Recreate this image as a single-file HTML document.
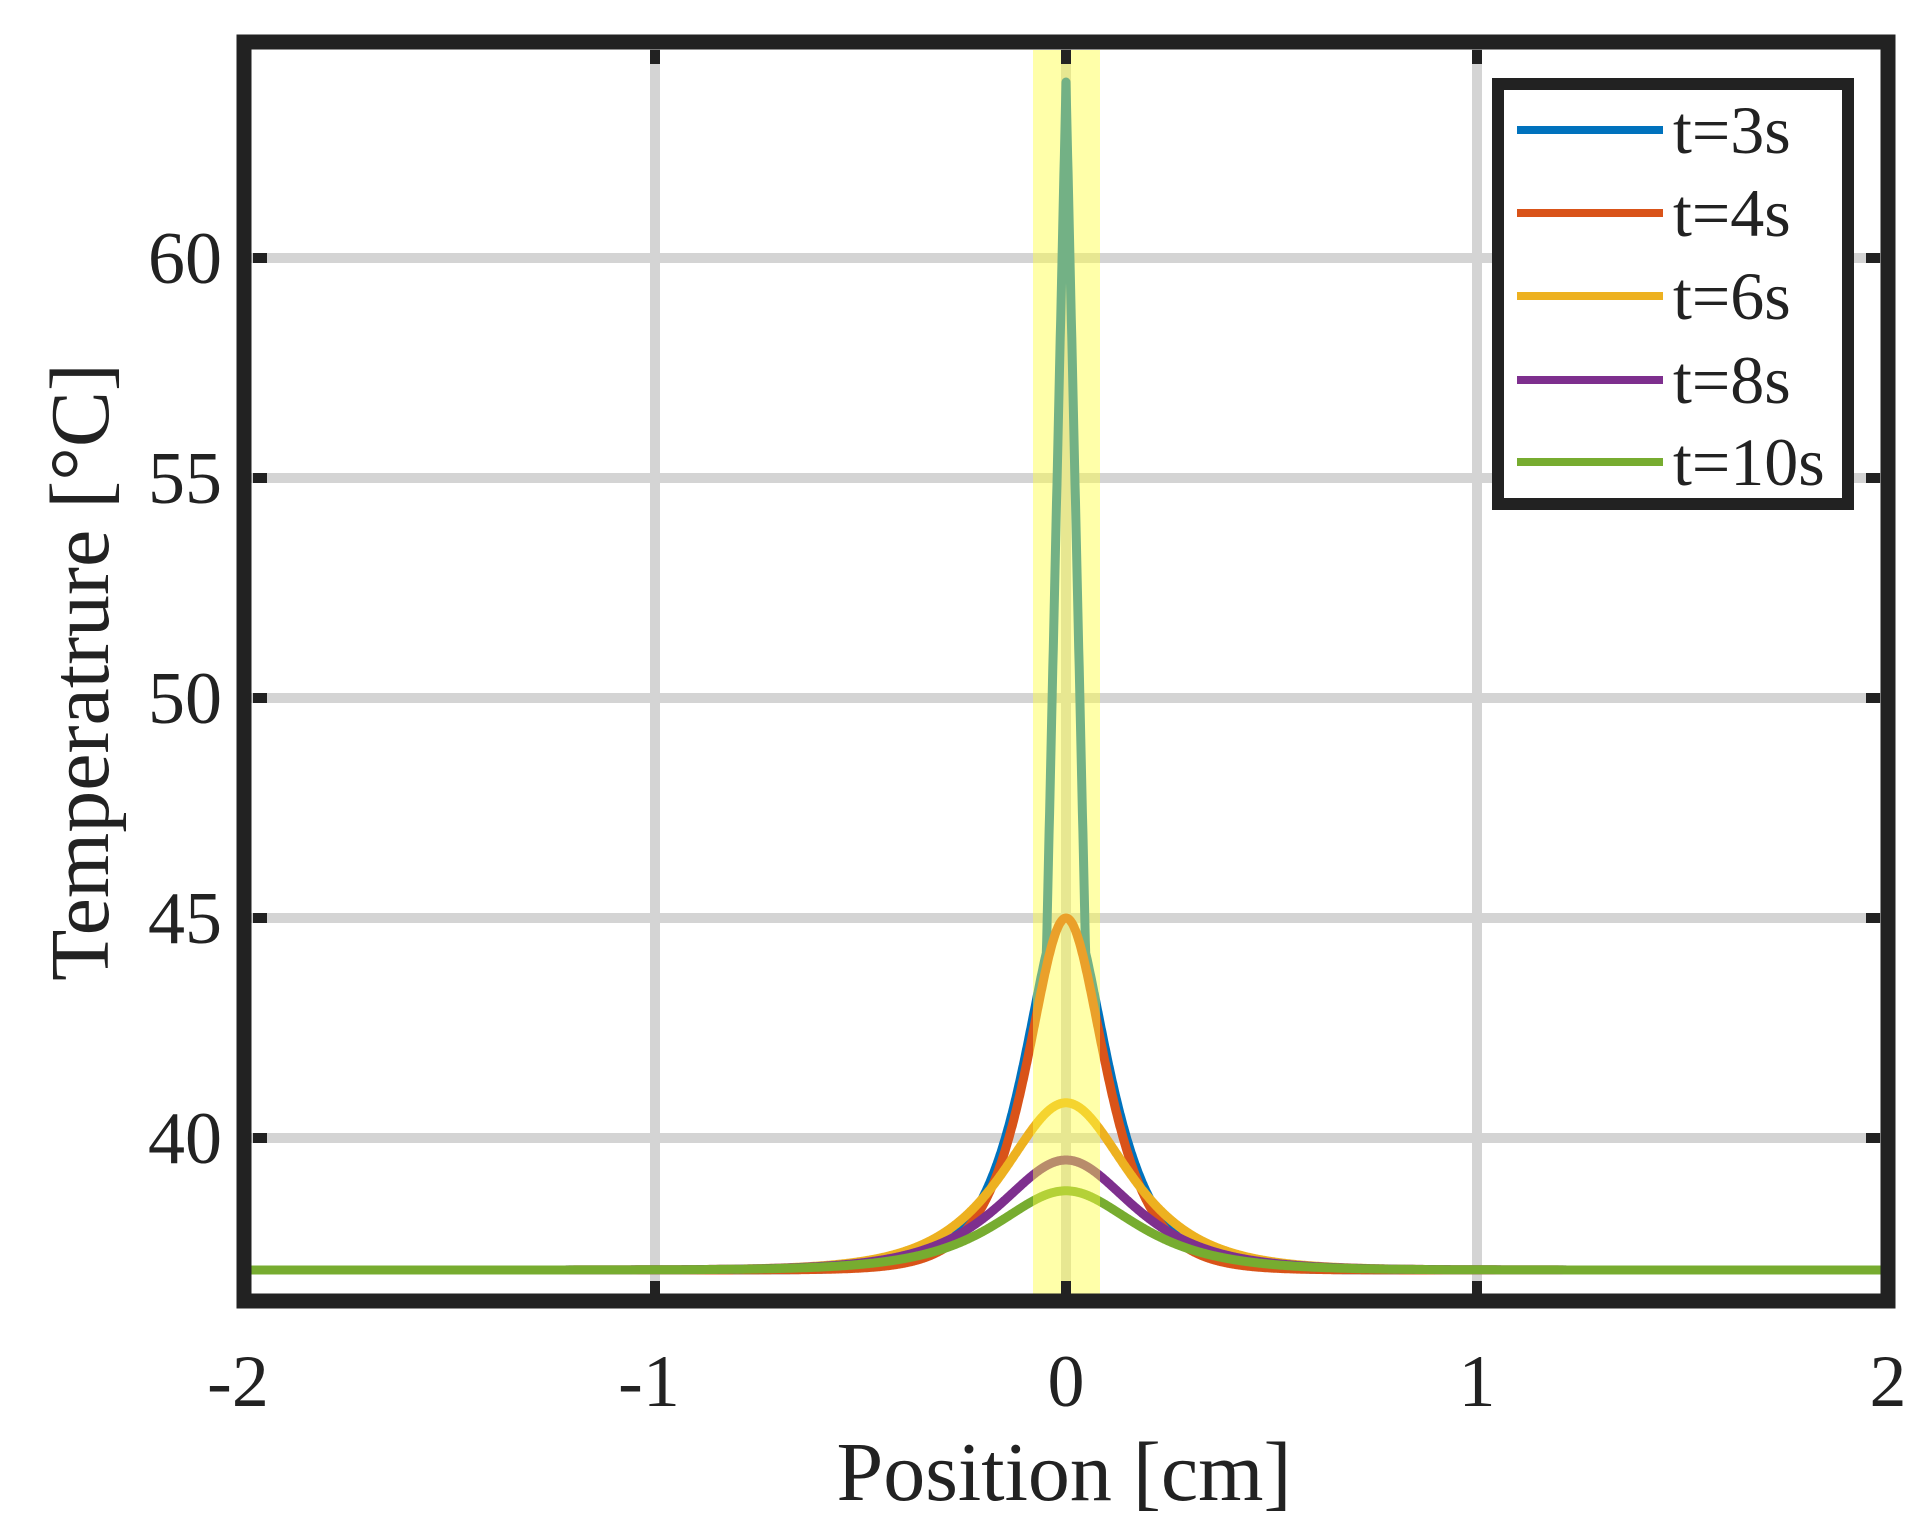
<!DOCTYPE html>
<html><head><meta charset="utf-8"><style>body{margin:0;background:#fff}svg{display:block}</style></head><body>
<svg id="s" width="1929" height="1536" xmlns="http://www.w3.org/2000/svg" font-family="Liberation Serif, serif" fill="#222">
<rect width="1929" height="1536" fill="#fff"/>
<g stroke="#d4d4d4" stroke-width="10">
<line x1="655" y1="42" x2="655" y2="1301"/><line x1="1066" y1="42" x2="1066" y2="1301"/><line x1="1477" y1="42" x2="1477" y2="1301"/>
<line x1="244" y1="258" x2="1888" y2="258"/><line x1="244" y1="478" x2="1888" y2="478"/><line x1="244" y1="698" x2="1888" y2="698"/><line x1="244" y1="918" x2="1888" y2="918"/><line x1="244" y1="1138" x2="1888" y2="1138"/>
</g>
<g id="curves" fill="none" stroke-width="9" stroke-linejoin="round"></g>
<rect x="1033" y="50" width="67" height="1245" fill="#ffff40" opacity="0.45"/>
<g stroke="#222" stroke-width="10">
<line x1="655" y1="50" x2="655" y2="64"/><line x1="1066" y1="50" x2="1066" y2="64"/><line x1="1477" y1="50" x2="1477" y2="64"/>
<line x1="655" y1="1295" x2="655" y2="1281"/><line x1="1066" y1="1295" x2="1066" y2="1281"/><line x1="1477" y1="1295" x2="1477" y2="1281"/>
<line x1="1880" y1="258" x2="1866" y2="258"/><line x1="1880" y1="478" x2="1866" y2="478"/><line x1="1880" y1="698" x2="1866" y2="698"/><line x1="1880" y1="918" x2="1866" y2="918"/><line x1="1880" y1="1138" x2="1866" y2="1138"/>
<line x1="253" y1="258" x2="267" y2="258"/><line x1="253" y1="478" x2="267" y2="478"/><line x1="253" y1="698" x2="267" y2="698"/><line x1="253" y1="918" x2="267" y2="918"/><line x1="253" y1="1138" x2="267" y2="1138"/>
</g>
<rect x="244" y="42" width="1644" height="1259" fill="none" stroke="#222" stroke-width="15"/>
<g font-size="74" text-anchor="end">
<text x="222" y="283">60</text><text x="222" y="503">55</text><text x="222" y="723">50</text><text x="222" y="943">45</text><text x="222" y="1163">40</text>
</g>
<g font-size="74" text-anchor="middle">
<text x="238" y="1406">-2</text><text x="649" y="1406">-1</text><text x="1066" y="1406">0</text><text x="1477" y="1406">1</text><text x="1888" y="1406">2</text>
</g>
<text x="1064" y="1500" font-size="84" text-anchor="middle">Position [cm]</text>
<text transform="translate(108,672) rotate(-90)" font-size="84" text-anchor="middle">Temperatrure [°C]</text>
<rect x="1498" y="84" width="350" height="420" fill="#fff" stroke="#222" stroke-width="12"/>
<g stroke-width="8">
<line x1="1517" y1="130" x2="1663" y2="130" stroke="#0072bd"/>
<line x1="1517" y1="213" x2="1663" y2="213" stroke="#d95319"/>
<line x1="1517" y1="296" x2="1663" y2="296" stroke="#edb120"/>
<line x1="1517" y1="380" x2="1663" y2="380" stroke="#7e2f8e"/>
<line x1="1517" y1="462" x2="1663" y2="462" stroke="#77ac30"/>
</g>
<g font-size="68">
<text x="1673" y="153">t=3s</text><text x="1673" y="236">t=4s</text><text x="1673" y="319">t=6s</text><text x="1673" y="403">t=8s</text><text x="1673" y="485">t=10s</text>
</g>
</svg>
<script>
var g=document.getElementById('curves');
function X(x){return 1066+x*411}function Y(t){return 1138-(t-40)*44}
function sech(v){return 1/Math.cosh(v)}
var S=[
["#0072bd",function(x){return 37+Math.max(8.3*sech(x/0.088),27*(1-Math.abs(x)/0.065))}],
["#d95319",function(x){return 37+8*sech(x/0.085)}],
["#edb120",function(x){return 37+3.8*sech(x/0.136)}],
["#7e2f8e",function(x){return 37+2.5*sech(x/0.145)}],
["#77ac30",function(x){return 37+1.8*sech(x/0.15)}]];
S.forEach(function(s){var d='';for(var i=0;i<=4000;i++){var x=-2+i*0.001;d+=(i?'L':'M')+X(x).toFixed(1)+' '+Y(s[1](x)).toFixed(1);}
var p=document.createElementNS('http://www.w3.org/2000/svg','path');p.setAttribute('d',d);p.setAttribute('stroke',s[0]);g.appendChild(p);});
</script>
</body></html>
